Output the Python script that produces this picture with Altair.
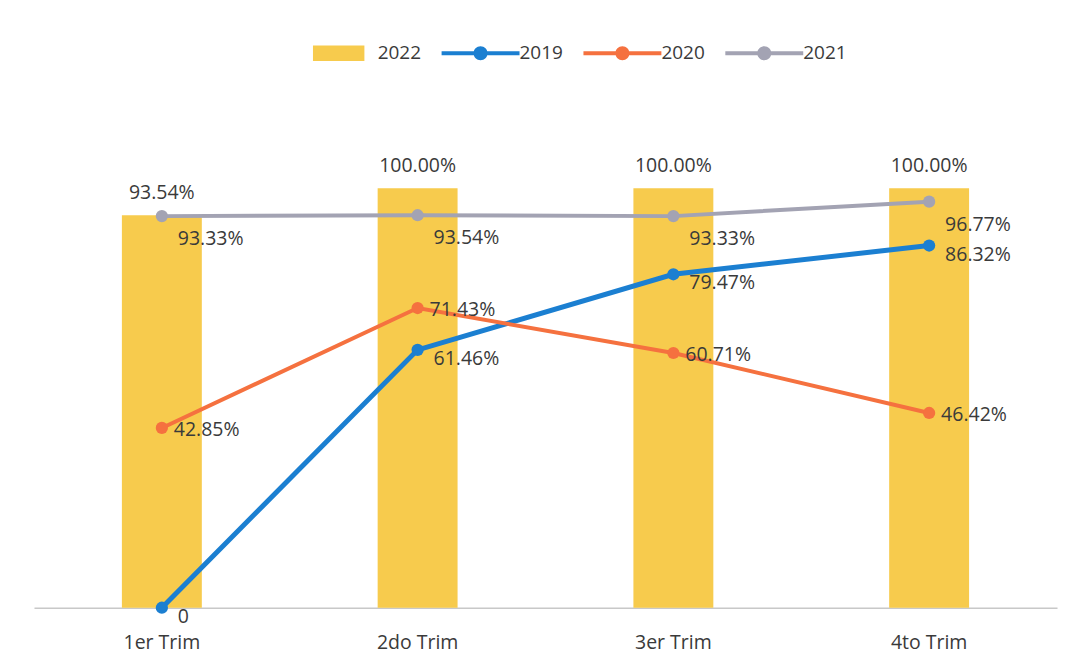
import altair as alt
import pandas as pd

quarters = ["1er Trim", "2do Trim", "3er Trim", "4to Trim"]
v2022 = [93.54, 100.00, 100.00, 100.00]
v2019 = [0.0, 61.46, 79.47, 86.32]
v2020 = [42.85, 71.43, 60.71, 46.42]
v2021 = [93.33, 93.54, 93.33, 96.77]

series_names = ["2022", "2019", "2020", "2021"]
series_colors = ["#F7CB4D", "#1B7FD1", "#F5713F", "#A3A3B3"]

rect_path = "M-0.66,-0.2H0.66V0.2H-0.66Z"
line_path = ("M-1,-0.05H1V0.05H-1Z "
             "M0.18,0 A0.18,0.18 0 1,1 -0.18,0 A0.18,0.18 0 1,1 0.18,0 Z")
series_shapes = [rect_path, line_path, line_path, line_path]

bars = pd.DataFrame({"q": quarters, "v": v2022, "s": "2022"})
lines = pd.concat([
    pd.DataFrame({"q": quarters, "v": v2019, "s": "2019"}),
    pd.DataFrame({"q": quarters, "v": v2020, "s": "2020"}),
    pd.DataFrame({"q": quarters, "v": v2021, "s": "2021"}),
])
allser = pd.concat([bars, lines])

FONT = "Open Sans"
TXT = "#3a3a3a"
FS = 19.5

x = alt.X("q:N", sort=quarters, title=None,
          scale=alt.Scale(paddingInner=0, paddingOuter=0),
          axis=alt.Axis(labelAngle=0, ticks=False, domainColor="#c8c8c8",
                        domainWidth=1.5, labelFontSize=FS, labelColor=TXT,
                        labelFont=FONT, labelPadding=26))
y = alt.Y("v:Q", title=None, scale=alt.Scale(domain=[0, 120]), axis=None)

label_expr = "datum.v == 0 ? '0' : format(datum.v, '.2f') + '%'"

bar_layer = alt.Chart(bars).mark_bar(size=80, color=series_colors[0]).encode(x=x, y=y)
bar_text = alt.Chart(bars).transform_calculate(lab=label_expr).mark_text(
    baseline="bottom", dy=-12, fontSize=FS, font=FONT, color=TXT
).encode(x=x, y=y, text="lab:N")

layers = [bar_layer, bar_text]

styles = {"2019": (16, 9, 5), "2020": (12, 2, 4), "2021": (16, 23, 4)}
for name in ["2019", "2020", "2021"]:
    d = lines[lines.s == name]
    dx, dy, sw = styles[name]
    c = series_colors[series_names.index(name)]
    layers.append(alt.Chart(d).mark_line(strokeWidth=sw, color=c).encode(x=x, y=y))
    layers.append(alt.Chart(d).mark_circle(size=150, opacity=1, color=c).encode(x=x, y=y))

for name in ["2019", "2020", "2021"]:
    d = lines[lines.s == name]
    dx, dy, sw = styles[name]
    layers.append(alt.Chart(d).transform_calculate(lab=label_expr).mark_text(
        align="left", baseline="middle", dx=dx, dy=dy, fontSize=FS, font=FONT, color=TXT
    ).encode(x=x, y=y, text="lab:N"))

leg = alt.Legend(title=None, orient="none", direction="horizontal",
                 legendX=266, legendY=-90, symbolSize=6084,
                 symbolStrokeWidth=0, labelFontSize=19,
                 labelFont=FONT, labelColor=TXT, columnPadding=20,
                 labelOffset=0, symbolOpacity=1)
legend_layer = alt.Chart(allser).mark_point(filled=True, size=0).encode(
    x=x, y=y,
    color=alt.Color("s:N", scale=alt.Scale(domain=series_names, range=series_colors), legend=leg),
    shape=alt.Shape("s:N", scale=alt.Scale(domain=series_names, range=series_shapes), legend=leg),
)
layers.append(legend_layer)

chart = alt.layer(*layers).properties(
    width=1024, height=504,
    padding={"left": 26, "top": 96, "right": 10, "bottom": 50},
    autosize=alt.AutoSizeParams(type="none"),
    background="white",
).configure_view(stroke=None)

chart.save("out.html", embed_options={"renderer": "svg", "actions": False})
